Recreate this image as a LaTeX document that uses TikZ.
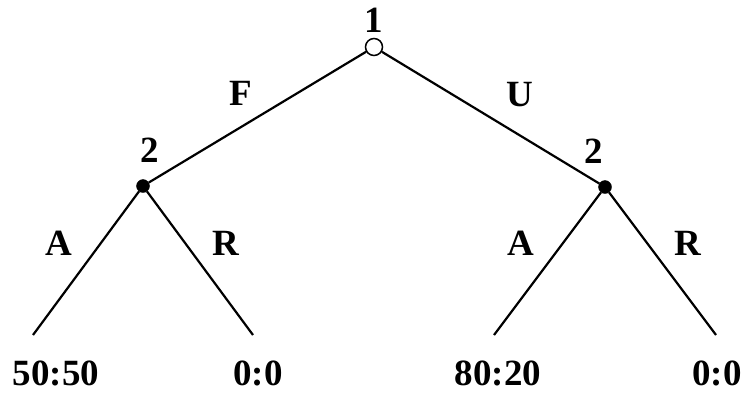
\documentclass[tikz,border=0pt]{standalone}
\usepackage{fontspec}
\setmainfont{Liberation Serif}
\usetikzlibrary{positioning}
\tikzstyle{chance} = [draw, circle, fill=white, line width=1.5pt, minimum size=17pt, inner sep=0pt]
\tikzstyle{player} = [draw, circle, fill=black, minimum size=13pt, inner sep=0pt]
\tikzstyle{branch} = [line width=2.2pt]
\tikzstyle{tag} = [inner sep=0pt, anchor=base, font=\fontsize{37}{40}\selectfont\bfseries]

\begin{document}
\begin{tikzpicture}[x=1pt,y=-1pt]
	\useasboundingbox (0,0) rectangle (746,392);
	% nodes of the tree
	\node[chance] (root) at (374,47) {};
	\node[player] (left) at (143,186) {};
	\node[player] (right) at (605,187) {};
	\coordinate (leafLA) at (33,335);
	\coordinate (leafLR) at (253,335);
	\coordinate (leafRA) at (494,335);
	\coordinate (leafRR) at (716,335);
	% branches
	\draw[branch] (root) -- (left);
	\draw[branch] (root) -- (right);
	\draw[branch] (left) -- (leafLA);
	\draw[branch] (left) -- (leafLR);
	\draw[branch] (right) -- (leafRA);
	\draw[branch] (right) -- (leafRR);
	% players
	\node[tag] (p1) at (374,32) {1};
	\node[tag] (p2l) at (150,162) {2};
	\node[tag] (p2r) at (594,163) {2};
	% moves
	\node[tag] (mF) at (241,105) {F};
	\node[tag] (mU) at (520,106) {U};
	\node[tag] (mLA) at (59,255) {A};
	\node[tag] (mLR) at (226,255) {R};
	\node[tag] (mRA) at (521,255) {A};
	\node[tag] (mRR) at (688,255) {R};
	% payoffs
	\node[tag] (payLA) at (56,385) {50:50};
	\node[tag] (payLR) at (258,385) {0:0};
	\node[tag] (payRA) at (498,385) {80:20};
	\node[tag] (payRR) at (717,385) {0:0};
\end{tikzpicture}
\end{document}
